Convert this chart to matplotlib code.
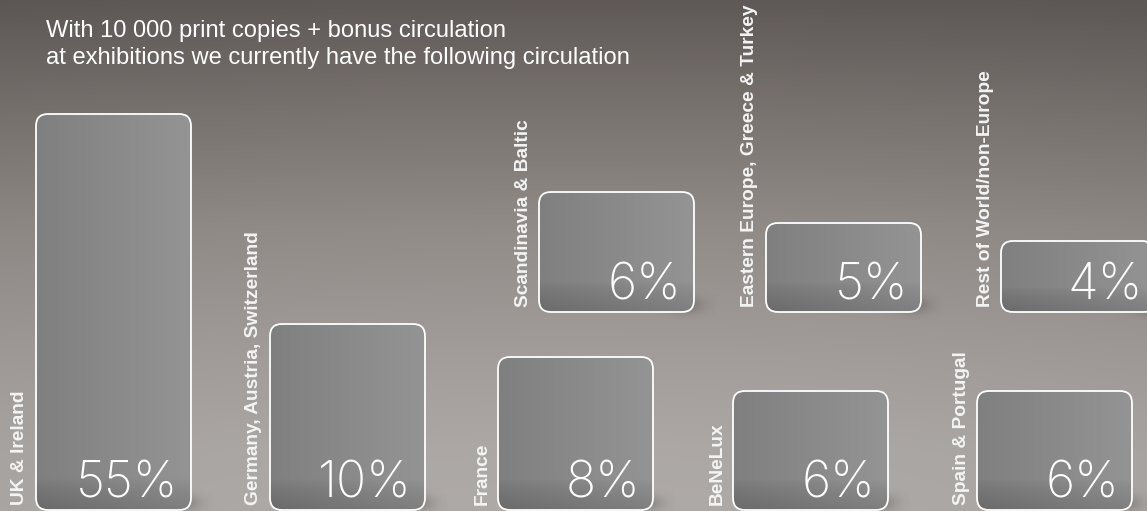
import numpy as np
import matplotlib
matplotlib.use("Agg")
import matplotlib.pyplot as plt
from matplotlib.patches import FancyBboxPatch

W, H = 1147, 511

# ---- data ----
regions = ["UK & Ireland", "Germany, Austria, Switzerland", "France", "BeNeLux",
           "Spain & Portugal", "Scandinavia & Baltic",
           "Eastern Europe, Greece & Turkey", "Rest of World/non-Europe"]
shares = [55, 10, 8, 6, 6, 6, 5, 4]
# the graphic is not to scale: drawn box heights
box_heights = [396, 186, 153, 119, 119, 120, 89, 71]
rows = ["bottom", "bottom", "bottom", "bottom", "bottom", "top", "top", "top"]

title_lines = ["With 10 000 print copies + bonus circulation",
               "at exhibitions we currently have the following circulation"]

# ---- layout ----
box_left = [36, 270, 498, 733, 977, 539, 766, 1001]
BOX_W = 155
row_base = {"bottom": 1, "top": 199}


def background(ax):
    # vertical grey gradient, darker/brownish at the top
    stops_y = np.array([0.0, 0.12, 0.3, 0.55, 0.8, 1.0])
    stops_c = np.array([
        [0xa9, 0xa5, 0xa2],
        [0xa7, 0xa3, 0xa0],
        [0x9e, 0x99, 0x96],
        [0x8e, 0x88, 0x85],
        [0x74, 0x6e, 0x6b],
        [0x5c, 0x56, 0x54],
    ]) / 255.0
    yy = np.linspace(0, 1, 256)
    col = np.stack([np.interp(yy, stops_y, stops_c[:, k]) for k in range(3)], axis=1)
    img = np.repeat(col[:, None, :], 64, axis=1)
    xx = np.linspace(-1, 1, 64)
    img = img * (1.0 + 0.03 * (1 - xx[None, :, None] ** 2))
    ax.imshow(np.clip(img, 0, 1), extent=(0, W, 0, H), origin="lower",
              aspect="auto", zorder=0, interpolation="bilinear")


def soft_shadow(ax, x0, y0, w):
    # blurred dark patch at the right foot of a box
    n = 64
    gx = np.linspace(-1, 1, n)[None, :]
    gy = np.linspace(-1, 1, n)[:, None]
    a = np.exp(-(gx ** 2) * 3.0 - (gy ** 2) * 3.0) * 0.35
    rgba = np.zeros((n, n, 4))
    rgba[..., :3] = 0.25
    rgba[..., 3] = a
    ax.imshow(rgba, extent=(x0 + w - 40, x0 + w + 22, y0 - 8, y0 + 22),
              origin="lower", aspect="auto", zorder=1, interpolation="bilinear")


def glass_box(ax, x0, y0, w, h):
    soft_shadow(ax, x0, y0, w)
    patch = FancyBboxPatch((x0, y0), w, h, boxstyle="round,pad=0,rounding_size=12",
                           fc="none", ec="white", lw=1.3, zorder=3)
    ax.add_patch(patch)
    # fill: a bit darker on the left, lighter on the right, dark band at the foot
    nx, ny = 64, 96
    gx = np.linspace(0, 1, nx)[None, :]
    gy = np.linspace(0, 1, ny)[:, None]
    base = 0.50 + 0.08 * gx
    band_h = min(30.0, h * 0.35) / h
    dark = np.where(gy < band_h, 0.08 * (1 - gy / band_h) ** 0.7, 0.0)
    v = np.clip(base - dark, 0, 1)
    rgb = np.stack([v, v, v], axis=2)
    im = ax.imshow(rgb, extent=(x0, x0 + w, y0, y0 + h), origin="lower",
                   aspect="auto", zorder=2, interpolation="bilinear")
    im.set_clip_path(patch)


fig = plt.figure(figsize=(W / 100, H / 100), dpi=100)
ax = fig.add_axes([0, 0, 1, 1])
background(ax)

for name, share, bh, row, x0 in zip(regions, shares, box_heights, rows, box_left):
    y0 = row_base[row]
    glass_box(ax, x0, y0, BOX_W, bh)
    ax.text(x0 + BOX_W - 13, y0 + 13, f"{share}%", ha="right", va="baseline",
            fontsize=36, color="white", family="Inter", fontweight=200, zorder=4)
    ax.text(x0 - 16, y0 + 5, name, rotation=90, ha="center", va="bottom",
            fontsize=13.8, fontweight="bold", family="Liberation Sans",
            color="#f4f4f4", zorder=4)

ax.text(46, H - 37, title_lines[0], va="baseline", ha="left", fontsize=17.1,
        color="white", family="Liberation Sans", zorder=4)
ax.text(46, H - 64, title_lines[1], va="baseline", ha="left", fontsize=17.1,
        color="white", family="Liberation Sans", zorder=4)

ax.set_xlim(0, W)
ax.set_ylim(0, H)
ax.axis("off")

fig.savefig("out.png", dpi=100)
